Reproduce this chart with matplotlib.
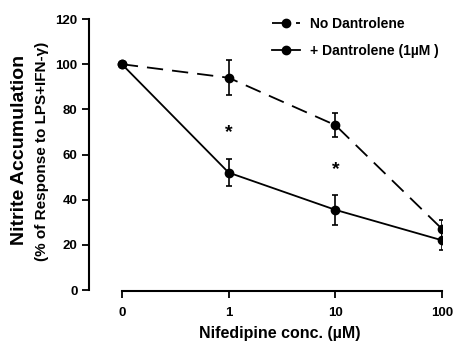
import numpy as np
import matplotlib.pyplot as plt
from matplotlib.lines import Line2D

plt.rcParams['font.family'] = ['Liberation Sans', 'DejaVu Sans']
plt.rcParams['font.weight'] = 'bold'

# Nifedipine concentrations (uM), plotted at evenly spaced positions
conc_labels = ["0", "1", "10", "100"]
pos = np.arange(len(conc_labels))

# Nitrite accumulation (% of response to LPS+IFN-gamma)
no_dan = [100, 94, 73, 27]
no_dan_err = [0, 7.7, 5.3, 4]
plus_dan = [100, 52, 35.5, 22]
plus_dan_err = [0, 6, 6.6, 4.4]

# significance marks
star_pos = [1, 2]
star_y = [69.5, 53.5]

fig = plt.figure(figsize=(4.53, 3.43), dpi=100)
ax = fig.add_axes([0.196, 0.1545, 0.78, 0.79])

dash = (9, 5)
ax.errorbar(pos, no_dan, yerr=no_dan_err, color='k', lw=1.3, dashes=dash,
            marker='o', ms=6, capsize=2.5, elinewidth=1.2, capthick=1.2)
ax.errorbar(pos, plus_dan, yerr=plus_dan_err, color='k', lw=1.3,
            marker='o', ms=6, capsize=2.5, elinewidth=1.2, capthick=1.2)

for x, y in zip(star_pos, star_y):
    ax.text(x, y, '*', ha='center', va='center', fontsize=14, fontweight='bold')

ax.set_xlim(-0.31, 3.0)
ax.set_ylim(0, 120)
ax.set_yticks(np.arange(0, 121, 20))
ax.set_xticks(pos)
ax.set_xticklabels(conc_labels)

ax.spines['top'].set_visible(False)
ax.spines['right'].set_visible(False)
ax.spines['left'].set_linewidth(1.5)
ax.spines['bottom'].set_linewidth(1.5)
ax.spines['bottom'].set_bounds(0, 3)
ax.spines['bottom'].set_position(('outward', 1))
ax.tick_params(axis='y', direction='out', length=5, width=1.3,
               labelsize=9.5, pad=3)
ax.tick_params(axis='x', direction='out', length=5, width=1.3,
               labelsize=9.5, pad=6)
for lab in ax.get_xticklabels() + ax.get_yticklabels():
    lab.set_fontweight('bold')

fig.text(0.618, 0.014, 'Nifedipine conc. (\u00b5M)', ha='center',
         va='baseline', fontsize=11.5, fontweight='bold')

fig.text(0.044, 0.562, 'Nitrite Accumulation', rotation=90, ha='center',
         va='center', fontsize=14, fontweight='bold')
fig.text(0.092, 0.56, '(% of Response to LPS+IFN-\u03b3)', rotation=90,
         ha='center', va='center', fontsize=11, fontweight='bold')

handles = [
    Line2D([], [], color='k', lw=1.3, dashes=(8.9, 4.4, 2.2, 20),
           marker='o', ms=6),
    Line2D([], [], color='k', lw=1.3, marker='o', ms=6),
]
labels = ['No Dantrolene', '+ Dantrolene (1\u00b5M )']
leg = fig.legend(handles, labels, loc='upper left',
                 bbox_to_anchor=(272 / 453, 1 - 17 / 343),
                 bbox_transform=fig.transFigure, frameon=False,
                 fontsize=10, handlelength=2.0, labelspacing=0.95,
                 handletextpad=0.7, borderpad=0, borderaxespad=0)
for t in leg.get_texts():
    t.set_fontweight('bold')

fig.savefig('out.png', dpi=100)
